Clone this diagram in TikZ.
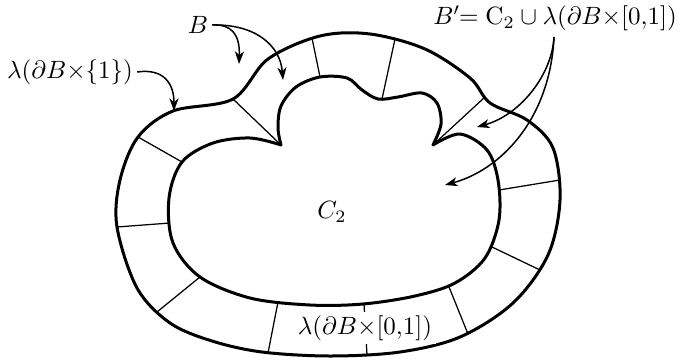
\documentclass[tikz,border=0pt]{standalone}
\usepackage{amsmath}
\usepackage{amssymb}
\usepackage{tikz}
\usetikzlibrary{arrows, arrows.meta}
\tikzset{rim/.style = {line width = 1.2pt, line join = round}}
\tikzset{spoke/.style = {line width = 0.5pt}}
\tikzset{pointer/.style = {line width = 0.6pt, -{Stealth[length = 5pt, width = 3.6pt, inset = 1.4pt]}}}
\tikzset{tag/.style = {inner sep = 1.5pt}}

\begin{document}
\begin{tikzpicture}[x = 0.4pt, y = -0.4pt]
				\useasboundingbox (0, 0) rectangle (684, 359);

				% outer boundary
				\draw[rim] plot[smooth cycle, tension = 0.55] coordinates {
					(117,227) (120,180) (138,137) (173,111) (233,99) (268,59) (320,36) (370,34)
					(425,49) (470,78) (490,103) (527,120) (553,148) (560,200) (548,255) (513,303)
					(460,337) (400,352) (330,356) (262,352) (212,341) (170,323) (137,288)};

				% inner boundary with two cusps
				\draw[rim] plot[smooth, tension = 0.55] coordinates {
					(281,145) (250,138) (213,143) (182,162) (169,198) (173,243) (200,277) (250,298)
					(310,305) (363,304) (415,296) (455,283) (485,258) (499,220) (498,180) (487,150)
					(460,134) (433,145)}
					-- plot[smooth, tension = 0.55] coordinates {
					(433,145) (441,124) (437,103) (422,93) (398,97) (378,99) (362,90) (347,78)
					(320,77) (296,87) (281,106) (278,128) (281,145)} -- cycle;

				% collar fibres
				\draw[spoke] (233,99) -- (281,145);
				\draw[spoke] (138,137) -- (182,162);
				\draw[spoke] (117,227) -- (170,223);
				\draw[spoke] (157,312) -- (200,277);
				\draw[spoke] (268,353) -- (278,302);
				\draw[spoke] (367,355) -- (364,304);
				\draw[spoke] (468,334) -- (449,287);
				\draw[spoke] (540,270) -- (492,247);
				\draw[spoke] (560,180) -- (499,190);
				\draw[spoke] (485,97) -- (433,145);
				\draw[spoke] (312,38) -- (320,77);
				\draw[spoke] (395,39) -- (382,99);

				% labels
				\node[tag] (lblB) at (198, 25) {$B$};
				\node[tag] (lblRim) at (70, 72) {$\lambda(\partial B{\times}\{1\})$};
				\node[tag] (lblBp) at (555, 18) {$B'\!\!= \mathrm{C}_2 \cup \lambda(\partial B{\times}[0{,}1])$};
				\node[tag] (lblC) at (332, 212) {$C_2$};
				\node[tag, fill = white] (lblBand) at (365, 328) {$\lambda(\partial B{\times}[0{,}1])$};

				\coordinate (tipB1) at (239, 64);
				\coordinate (tipB2) at (283, 80);
				\coordinate (tipRim) at (174, 111);
				\coordinate (fromBp) at (554, 37);
				\coordinate (tipBp1) at (477, 127);
				\coordinate (tipBp2) at (445, 185);

				\draw[pointer] (lblB.east) .. controls (232, 24) and (240, 35) .. (tipB1);
				\draw[pointer] (lblB.east) .. controls (255, 24) and (280, 45) .. (tipB2);
				\draw[pointer] (lblRim.east) .. controls (165, 68) and (174, 85) .. (tipRim);
				\draw[pointer] (fromBp) .. controls (552, 75) and (520, 115) .. (tipBp1);
				\draw[pointer] (fromBp) .. controls (550, 120) and (500, 170) .. (tipBp2);
			\end{tikzpicture}
\end{document}
